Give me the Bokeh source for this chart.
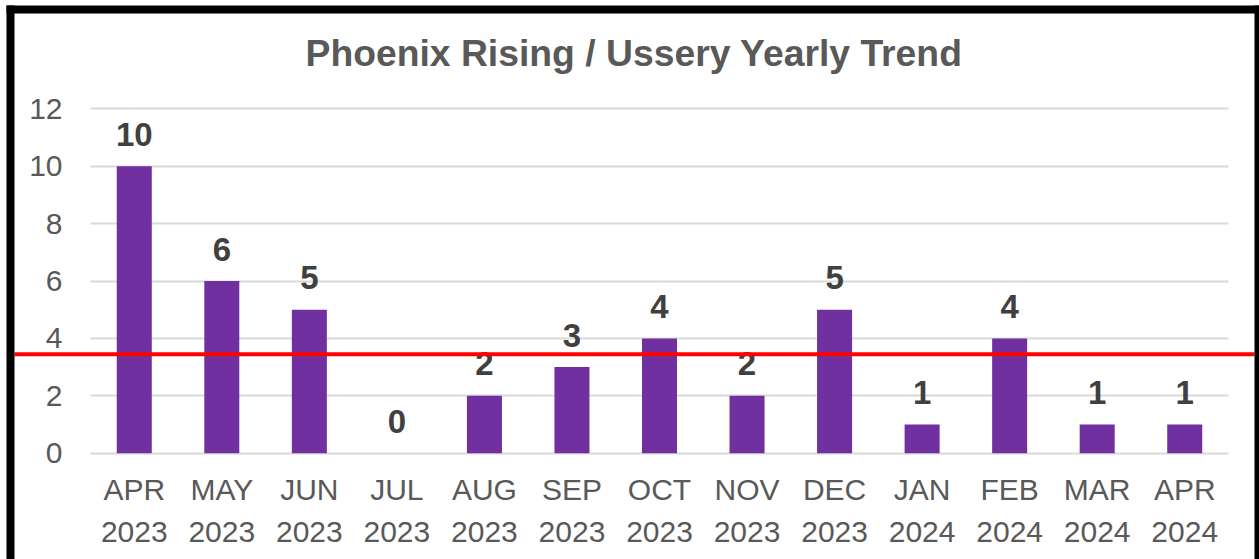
from bokeh.plotting import figure
from bokeh.models import ColumnDataSource, Range1d, BoxAnnotation, Label, FixedTicker
from bokeh.core.properties import value
from bokeh.embed import file_html
from bokeh.resources import INLINE

months = ["APR\n2023", "MAY\n2023", "JUN\n2023", "JUL\n2023", "AUG\n2023", "SEP\n2023",
          "OCT\n2023", "NOV\n2023", "DEC\n2023", "JAN\n2024", "FEB\n2024", "MAR\n2024", "APR\n2024"]
counts = [10, 6, 5, 0, 2, 3, 4, 2, 5, 1, 4, 1, 1]
average = 3.45
y_ticks = [0, 2, 4, 6, 8, 10, 12]
title_text = "Phoenix Rising / Ussery Yearly Trend"

# ---- layout (pixels on the canvas) ----
W, H = 1259, 559
PX_CAT_LEFT, PX_CAT_RIGHT = 90, 1228      # span of the category slots
PX_Y0, PX_Y12 = 452.7, 108.3              # pixel rows of y=0 and y=12
n = len(months)
ux = (PX_CAT_RIGHT - PX_CAT_LEFT) / n
uy = (PX_Y0 - PX_Y12) / 12
x_start = -0.5 - PX_CAT_LEFT / ux
x_end = (n - 0.5) + (W - PX_CAT_RIGHT) / ux
y_start = -(H - PX_Y0) / uy
y_end = PX_Y0 / uy


def dx(px):
    return x_start + px / ux


def dy(py):
    return (PX_Y0 - py) / uy


xs = list(range(n))
source = ColumnDataSource(dict(x=xs, y=counts, label=[str(c) for c in counts]))

p = figure(width=W, height=H, x_range=Range1d(x_start, x_end), y_range=Range1d(y_start, y_end),
           output_backend="svg", toolbar_location=None, min_border=0)
p.title.visible = False
p.outline_line_color = None
p.background_fill_color = "white"
p.border_fill_color = "white"

p.vbar(x="x", top="y", width=0.4, source=source, fill_color="#7030A0", line_color=None)

p.text(x="x", y="y", text="label", source=source, y_offset=-32,
       text_align="center", text_baseline="alphabetic",
       text_font=value("Liberation Sans"), text_font_size="33px", text_font_style="bold",
       text_color="#404040")

# axes drawn inside the frame
p.yaxis.fixed_location = -0.5
p.xaxis.fixed_location = 0
p.yaxis.ticker = FixedTicker(ticks=y_ticks)
p.xaxis.ticker = FixedTicker(ticks=xs)
p.xaxis.major_label_overrides = {i: m for i, m in zip(xs, months)}
for ax in (p.xaxis[0], p.yaxis[0]):
    ax.axis_line_color = None
    ax.major_tick_line_color = None
    ax.minor_tick_line_color = None
    ax.major_tick_in = 0
    ax.major_tick_out = 0
    ax.major_label_text_font = "Liberation Sans"
    ax.major_label_text_font_size = "30px"
    ax.major_label_text_color = "#595959"
p.yaxis.major_label_standoff = 28
p.xaxis.major_label_standoff = 20
p.xaxis.major_label_text_line_height = 1.27

p.xgrid.grid_line_color = None
p.ygrid.grid_line_color = "#D9D9D9"
p.ygrid.grid_line_width = 2
try:
    p.ygrid[0].cross_bounds = (-0.5, n - 0.5)
except AttributeError:
    p.ygrid.grid_line_color = None
    p.segment(x0=-0.5, x1=n - 0.5, y0=y_ticks, y1=y_ticks, line_color="#D9D9D9",
              line_width=2, level="underlay")

# title
p.add_layout(Label(x=dx(305), y=dy(52), text=title_text, text_align="left",
                   text_baseline="alphabetic", text_font="Liberation Sans", text_font_size="37.3px",
                   text_font_style="bold", text_color="#595959"))

# average line, running across the whole chart inside the black frame
half = 2 / uy
p.add_layout(BoxAnnotation(left=dx(14), right=dx(1254), bottom=average - half, top=average + half,
                           fill_color="#FF0000", fill_alpha=1, line_color=None, level="overlay"))

# black frame around the picture
for l, r, t, b in [(6, 14, 5, H + 5), (6, W + 5, 5, 13), (1254, W + 5, 5, H + 5)]:
    p.add_layout(BoxAnnotation(left=dx(l), right=dx(r), top=dy(t), bottom=dy(b),
                               fill_color="black", fill_alpha=1, line_color=None, level="overlay"))

open("out.html", "w").write(file_html(p, INLINE))
